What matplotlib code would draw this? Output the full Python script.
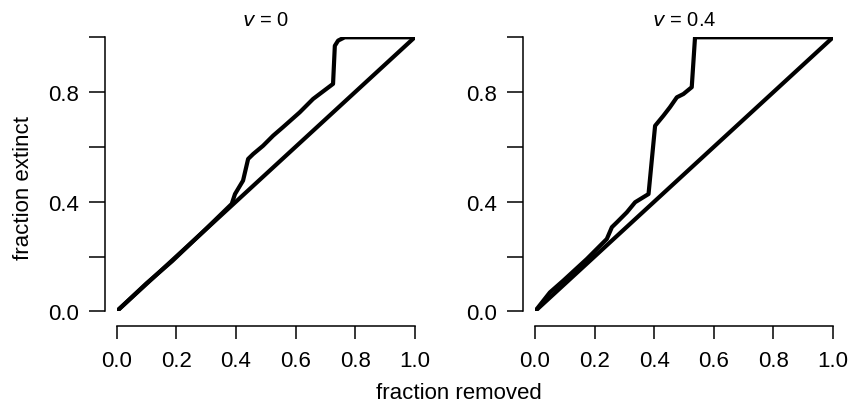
import numpy as np
import matplotlib.pyplot as plt

plt.rcParams['font.family'] = ['Liberation Sans', 'DejaVu Sans']

# fraction removed vs fraction extinct, one curve per v
v_labels = ["0", "0.4"]

removed_v0 = [0.0, 0.1, 0.186, 0.3, 0.386, 0.397, 0.424, 0.441, 0.458, 0.491,
              0.525, 0.558, 0.614, 0.659, 0.726, 0.732, 0.743, 0.765, 1.0]
extinct_v0 = [0.0, 0.102, 0.183, 0.301, 0.392, 0.428, 0.477, 0.556, 0.574, 0.604,
              0.641, 0.672, 0.726, 0.775, 0.83, 0.969, 0.988, 1.0, 1.0]

removed_v04 = [0.0, 0.05, 0.095, 0.174, 0.241, 0.258, 0.275, 0.308, 0.336, 0.381,
               0.403, 0.431, 0.453, 0.476, 0.498, 0.526, 0.537, 1.0]
extinct_v04 = [0.0, 0.069, 0.112, 0.191, 0.264, 0.307, 0.325, 0.361, 0.398, 0.428,
               0.677, 0.714, 0.745, 0.781, 0.793, 0.818, 1.0, 1.0]

curves = [(removed_v0, extinct_v0), (removed_v04, extinct_v04)]

ticks = [0.0, 0.2, 0.4, 0.6, 0.8, 1.0]
xtick_labels = ["0.0", "0.2", "0.4", "0.6", "0.8", "1.0"]
ytick_labels = ["0.0", "", "0.4", "", "0.8", ""]

fig = plt.figure(figsize=(8.5, 4.1), dpi=100)
lefts = [116.7 / 850, 535.0 / 850]
for i, (xs, ys) in enumerate(curves):
    ax = fig.add_axes([lefts[i], 1 - 312.3 / 410, 298.0 / 850, 274.0 / 410])
    # reference diagonal y = x
    ax.plot([0, 1], [0, 1], color="black", lw=3.0, solid_capstyle="round")
    ax.plot(xs, ys, color="black", lw=3.0, solid_capstyle="round",
            solid_joinstyle="round")
    ax.set_xlim(0, 1)
    ax.set_ylim(0, 1)
    for s in ["top", "right"]:
        ax.spines[s].set_visible(False)
    ax.spines["left"].set_position(("outward", 8.6))
    ax.spines["bottom"].set_position(("outward", 10.3))
    for s in ["left", "bottom"]:
        ax.spines[s].set_bounds(0, 1)
        ax.spines[s].set_linewidth(1.1)
    ax.set_xticks(ticks)
    ax.set_xticklabels(xtick_labels)
    ax.set_yticks(ticks)
    ax.set_yticklabels(ytick_labels)
    ax.tick_params(axis="y", length=11.5, width=1.1, pad=7, labelsize=16)
    ax.tick_params(axis="x", length=9.4, width=1.1, pad=8, labelsize=16)
    ax.set_title(r"$v$ = " + v_labels[i], fontsize=14.5, pad=9)

fig.text(24 / 850, 1 - 188 / 410, "fraction extinct", rotation=90,
         ha="center", va="center", fontsize=16)
fig.text(459 / 850, 1 - 394 / 410, "fraction removed", ha="center",
         va="center", fontsize=16)

fig.savefig("out.png", dpi=100)
